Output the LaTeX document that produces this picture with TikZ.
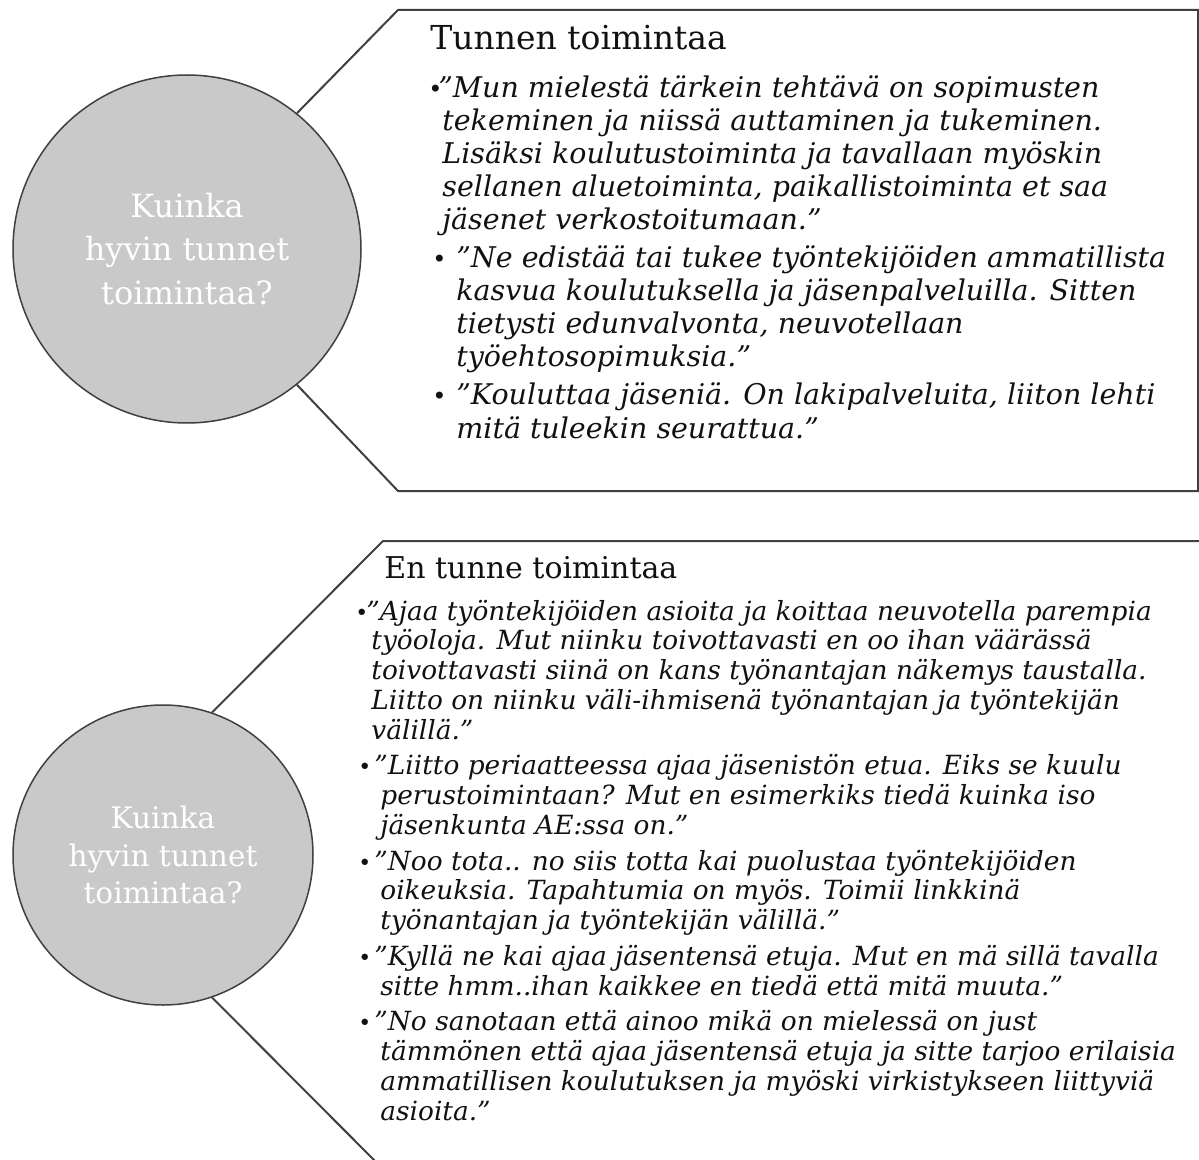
\documentclass[tikz,border=0pt]{standalone}
\usepackage{fontspec}
\usepackage{graphicx}
\setmainfont{DejaVu Serif}
\definecolor{edge}{HTML}{404040}
\definecolor{disc}{HTML}{C9C9C9}
\definecolor{ink}{HTML}{111111}
\newcommand\TopBody{\fontsize{14.25pt}{16.5pt}\selectfont\itshape}
\newcommand\BotBody{\fontsize{13.2pt}{15pt}\selectfont\itshape}
\newcommand\TX[1]{\scalebox{1}[1]{#1}}
\newcommand\BX[1]{\scalebox{1}[1]{#1}}
\begin{document}
\begin{tikzpicture}[x=0.5pt,y=-0.5pt,
  boxline/.style={draw=edge, line width=1pt, line join=miter},
  disk/.style={circle, draw=edge, line width=0.75pt, fill=disc, inner sep=0pt, text=white, align=center},
  tline/.style={anchor=base west, inner sep=0pt, text=ink, font=\TopBody},
  bline/.style={anchor=base west, inner sep=0pt, text=ink, font=\BotBody},
  tbul/.style={anchor=base west, inner sep=0pt, text=ink, font=\fontsize{12pt}{14pt}\selectfont},
  bbul/.style={anchor=base west, inner sep=0pt, text=ink, font=\fontsize{11pt}{13pt}\selectfont},
  title/.style={anchor=base west, inner sep=0pt, text=ink}]
\useasboundingbox (0,0) rectangle (1199,1160);
\clip (0,0) rectangle (1199,1160);

% ---------- top group ----------
\node[disk, minimum size=174pt, font=\fontsize{16pt}{21.75pt}\selectfont] (c1) at (187,249)
  {Kuinka\\hyvin tunnet\\toimintaa?};
\coordinate (p1) at (398,10);
\coordinate (p2) at (1198,10);
\coordinate (p3) at (1198,491);
\coordinate (p4) at (398,491);
\draw[boxline] (c1.51.7) -- (p1) -- (p2) -- (p3) -- (p4) -- (c1.-51.7);

\node[title, font=\fontsize{16.5pt}{19pt}\selectfont] (h1) at (430,50) {\TX{Tunnen toimintaa}};

\node[tbul] (u1) at (428,98) {•};
\node[tline] (a1) at (438,98) {\TX{”Mun mielestä tärkein tehtävä on sopimusten}};
\node[tline] (a2) at (442,131) {\TX{tekeminen ja niissä auttaminen ja tukeminen.}};
\node[tline] (a3) at (442,164) {\TX{Lisäksi koulutustoiminta ja tavallaan myöskin}};
\node[tline] (a4) at (442,197) {\TX{sellanen aluetoiminta, paikallistoiminta et saa}};
\node[tline] (a5) at (442,230) {\TX{jäsenet verkostoitumaan.”}};
\node[tbul] (u2) at (432,268) {•};
\node[tline] (a6) at (456,268) {\TX{”Ne edistää tai tukee työntekijöiden ammatillista}};
\node[tline] (a7) at (456,301) {\TX{kasvua koulutuksella ja jäsenpalveluilla. Sitten}};
\node[tline] (a8) at (456,334) {\TX{tietysti edunvalvonta, neuvotellaan}};
\node[tline] (a9) at (456,367) {\TX{työehtosopimuksia.”}};
\node[tbul] (u3) at (432,405) {•};
\node[tline] (a10) at (456,405) {\TX{”Kouluttaa jäseniä. On lakipalveluita, liiton lehti}};
\node[tline] (a11) at (456,438) {\TX{mitä tuleekin seurattua.”}};

% ---------- bottom group ----------
\node[disk, minimum size=150pt, font=\fontsize{14.8pt}{18.75pt}\selectfont] (c2) at (163,855)
  {Kuinka\\hyvin tunnet\\toimintaa?};
\coordinate (q1) at (383,541);
\coordinate (q2) at (1215,541);
\coordinate (q3) at (1215,1169);
\coordinate (q4) at (383,1169);
\draw[boxline] (c2.71) -- (q1) -- (q2) -- (q3) -- (q4) -- (c2.-71);

\node[title, font=\fontsize{15pt}{18pt}\selectfont] (h2) at (384,578) {\BX{En tunne toimintaa}};

\node[bbul] (v1) at (355,620) {•};
\node[bline] (b1) at (366,620) {\BX{”Ajaa työntekijöiden asioita ja koittaa neuvotella parempia}};
\node[bline] (b2) at (371,649.75) {\BX{työoloja. Mut niinku toivottavasti en oo ihan väärässä}};
\node[bline] (b3) at (371,679.5) {\BX{toivottavasti siinä on kans työnantajan näkemys taustalla.}};
\node[bline] (b4) at (371,709.25) {\BX{Liitto on niinku väli-ihmisenä työnantajan ja työntekijän}};
\node[bline] (b5) at (371,739) {\BX{välillä.”}};
\node[bbul] (v2) at (358,774.75) {•};
\node[bline] (b6) at (374,774.75) {\BX{”Liitto periaatteessa ajaa jäsenistön etua. Eiks se kuulu}};
\node[bline] (b7) at (380,804.5) {\BX{perustoimintaan? Mut en esimerkiks tiedä kuinka iso}};
\node[bline] (b8) at (380,834.25) {\BX{jäsenkunta AE:ssa on.”}};
\node[bbul] (v3) at (358,870) {•};
\node[bline] (b9) at (374,870) {\BX{”Noo tota.. no siis totta kai puolustaa työntekijöiden}};
\node[bline] (b10) at (380,899.75) {\BX{oikeuksia. Tapahtumia on myös. Toimii linkkinä}};
\node[bline] (b11) at (380,929.5) {\BX{työnantajan ja työntekijän välillä.”}};
\node[bbul] (v4) at (358,965.25) {•};
\node[bline] (b12) at (374,965.25) {\BX{”Kyllä ne kai ajaa jäsentensä etuja. Mut en mä sillä tavalla}};
\node[bline] (b13) at (380,995) {\BX{sitte hmm..ihan kaikkee en tiedä että mitä muuta.”}};
\node[bbul] (v5) at (358,1030.75) {•};
\node[bline] (b14) at (374,1030.75) {\BX{”No sanotaan että ainoo mikä on mielessä on just}};
\node[bline] (b15) at (380,1060.5) {\BX{tämmönen että ajaa jäsentensä etuja ja sitte tarjoo erilaisia}};
\node[bline] (b16) at (380,1090.25) {\BX{ammatillisen koulutuksen ja myöski virkistykseen liittyviä}};
\node[bline] (b17) at (380,1120) {\BX{asioita.”}};
\end{tikzpicture}
\end{document}
